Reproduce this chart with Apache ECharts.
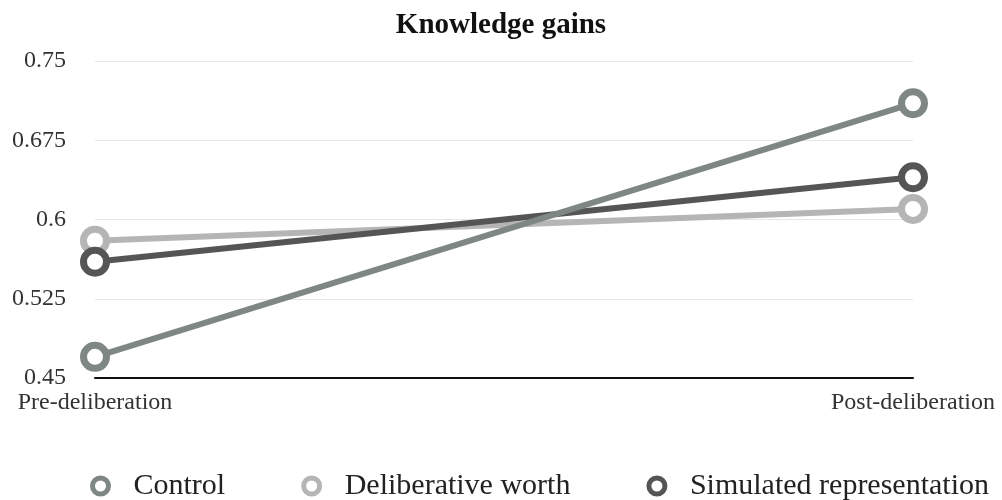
<!DOCTYPE html>
<html>
<head>
<meta charset="utf-8">
<script src="https://cdn.jsdelivr.net/npm/echarts@6/dist/echarts.min.js"></script>
<style>
  html, body { margin: 0; padding: 0; background: #fff; }
  #chart { width: 1002px; height: 500px; }
</style>
</head>
<body>
<div id="chart"></div>
<script>
var stages = ['Pre-deliberation', 'Post-deliberation'];
var control = [0.47, 0.71];
var deliberativeWorth = [0.58, 0.61];
var simulatedRep = [0.56, 0.64];

var seriesNames = ['Control', 'Deliberative worth', 'Simulated representation'];
var seriesData = [control, deliberativeWorth, simulatedRep];
var colors = ['#7f8784', '#b5b5b5', '#555555'];

var font = '"Liberation Serif", "DejaVu Serif", serif';

function makeSeries(i) {
    return {
        name: seriesNames[i],
        type: 'line',
        data: seriesData[i],
        symbol: 'circle',
        symbolSize: 23,
        showSymbol: true,
        lineStyle: {width: 6, color: colors[i]},
        itemStyle: {color: '#fff', borderColor: colors[i], borderWidth: 7},
        z: i === 0 ? 3 : 2
    };
}

var option = {
    animation: false,
    backgroundColor: '#fff',
    color: colors,
    title: {
        text: 'Knowledge gains',
        left: 'center',
        top: 6,
        textStyle: {fontFamily: font, fontSize: 29, fontWeight: 'bold', color: '#111'}
    },
    legend: {
        top: 466,
        left: 85,
        itemGap: 76,
        itemWidth: 56,
        itemHeight: 16,
        icon: 'circle',
        textStyle: {fontFamily: font, fontSize: 30, color: '#222'},
        data: [
            {name: seriesNames[0], itemStyle: {color: '#fff', borderColor: colors[0], borderWidth: 5}},
            {name: seriesNames[1], itemStyle: {color: '#fff', borderColor: colors[1], borderWidth: 5}},
            {name: seriesNames[2], itemStyle: {color: '#fff', borderColor: colors[2], borderWidth: 5}}
        ]
    },
    grid: {left: 95, right: 89, top: 61, bottom: 122},
    xAxis: {
        type: 'category',
        data: stages,
        boundaryGap: false,
        axisLine: {lineStyle: {color: '#111', width: 2}},
        axisTick: {show: false},
        axisLabel: {fontFamily: font, fontSize: 24, color: '#333', margin: 13}
    },
    yAxis: {
        type: 'value',
        min: 0.45,
        max: 0.75,
        interval: 0.075,
        axisLine: {show: false},
        axisTick: {show: false},
        splitLine: {lineStyle: {color: '#e6e6e6', width: 1}},
        axisLabel: {
            fontFamily: font, fontSize: 24, color: '#333', margin: 29,
            formatter: function (v) { return String(parseFloat(v.toFixed(3))); }
        }
    },
    series: [makeSeries(0), makeSeries(1), makeSeries(2)]
};

var chart = echarts.init(document.getElementById('chart'));
chart.setOption(option);
</script>
</body>
</html>
